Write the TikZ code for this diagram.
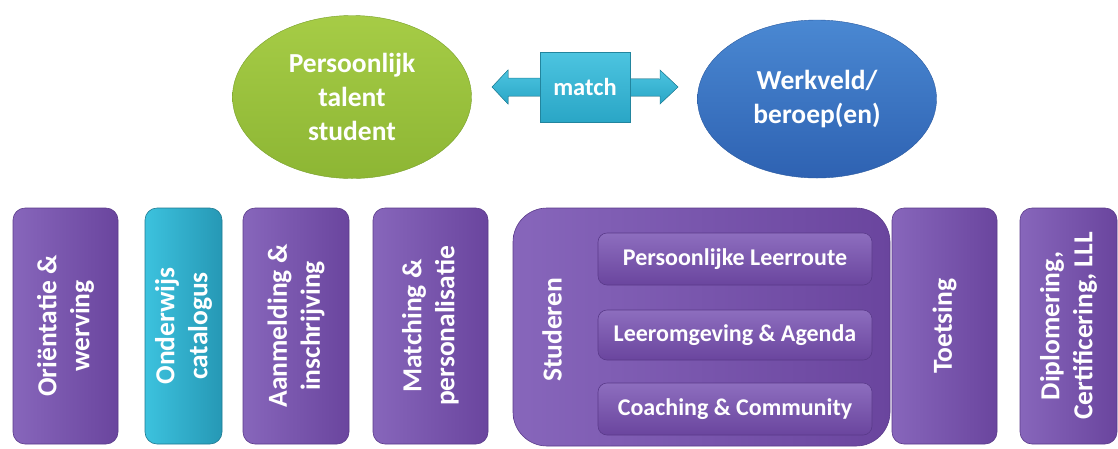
\documentclass[tikz,border=0pt]{standalone}
\usepackage{fontspec}
\setmainfont{Carlito}
\usetikzlibrary{shapes.geometric}
\definecolor{pl}{HTML}{8766BB}
\definecolor{pd}{HTML}{6A459E}
\definecolor{pb}{HTML}{5A3A8A}
\definecolor{cl}{HTML}{3CC2DE}
\definecolor{cd}{HTML}{2698B5}
\definecolor{gl}{HTML}{A6CC46}
\definecolor{gd}{HTML}{8DB634}
\definecolor{gb}{HTML}{78A02A}
\definecolor{bl}{HTML}{4A88D2}
\definecolor{bd}{HTML}{2E62B2}
\definecolor{bb}{HTML}{2A5AA0}
\definecolor{al}{HTML}{4CC4E0}
\definecolor{ad}{HTML}{2AA6C6}
\begin{document}
\begin{tikzpicture}[x=1pt,y=-1pt,
  pbox/.style={rounded corners=12pt, left color=pl, right color=pd, draw=pb, line width=0.6pt, inner sep=0pt},
  cbox/.style={rounded corners=12pt, left color=cl, right color=cd, draw=cd!80!black, line width=0.6pt, inner sep=0pt},
  ibox/.style={rounded corners=9pt, top color=pl!95!white, bottom color=pd, draw=pb, line width=0.6pt, inner sep=0pt, minimum width=274pt, text=white, font=\bfseries\fontsize{24}{28}\selectfont},
  vtext/.style={rotate=90, text=white, align=center, font=\bfseries\fontsize{27.5}{33}\selectfont, inner sep=0pt},
  ell/.style={ellipse, inner sep=0pt, text=white, align=center, font=\bfseries\fontsize{27.5}{34}\selectfont}
]
\useasboundingbox (0,0) rectangle (1118,448);
% top
\node[ell, top color=gl, bottom color=gd, draw=gb, minimum width=239pt, minimum height=163pt] (talent) at (352,97) {Persoonlijk\\talent\\student};
\node[ell, top color=bl, bottom color=bd, draw=bb, minimum width=239pt, minimum height=158pt] (werk) at (817,99) {Werkveld/\\beroep(en)};
\coordinate (al) at (492,87);
\coordinate (ar) at (678,87);
\fill[top color=al, bottom color=ad, draw=ad!80!black, line width=0.5pt]
  (al) -- ++(16,-17) -- ++(0,8) -- (660,79) -- (660,70) -- (ar) -- (660,104) -- (660,96) -- (508,96) -- (508,104) -- cycle;
\node[top color=al, bottom color=ad, draw=ad!80!black, line width=0.5pt, minimum width=90pt, minimum height=70pt, inner sep=0pt, text=white, font=\bfseries\fontsize{24.5}{28}\selectfont] (match) at (585,87) {match};
% bottom boxes
\node[pbox, minimum width=105pt, minimum height=236pt] (b1) at (65.5,326) {};
\node[vtext] (t1) at (b1.center) {Oriëntatie \&\\werving};
\node[cbox, minimum width=77pt, minimum height=236pt] (b2) at (183.5,326) {};
\node[vtext] (t2) at (b2.center) {Onderwijs\\catalogus};
\node[pbox, minimum width=106pt, minimum height=236pt] (b3) at (296,326) {};
\node[vtext] (t3) at (b3.center) {Aanmelding \&\\inschrijving};
\node[pbox, minimum width=115pt, minimum height=236pt] (b4) at (430.5,326) {};
\node[vtext] (t4) at (b4.center) {Matching \&\\personalisatie};
\node[pbox, rounded corners=34pt, minimum width=377pt, minimum height=238pt] (stud) at (701.5,327) {};
\node[vtext] (t5) at (552,330) {Studeren};
\node[ibox, minimum height=52pt] (i1) at (735,259) {Persoonlijke Leerroute};
\node[ibox, minimum height=50pt] (i2) at (735,335) {Leeromgeving \& Agenda};
\node[ibox, minimum height=52pt] (i3) at (735,409) {Coaching \& Community};
\node[pbox, minimum width=105pt, minimum height=236pt] (b6) at (944.5,326) {};
\node[vtext] (t6) at (b6.center) {Toetsing};
\node[pbox, minimum width=97pt, minimum height=236pt] (b7) at (1068.5,326) {};
\node[vtext] (t7) at (b7.center) {Diplomering,\\Certificering, LLL};
\end{tikzpicture}
\end{document}
